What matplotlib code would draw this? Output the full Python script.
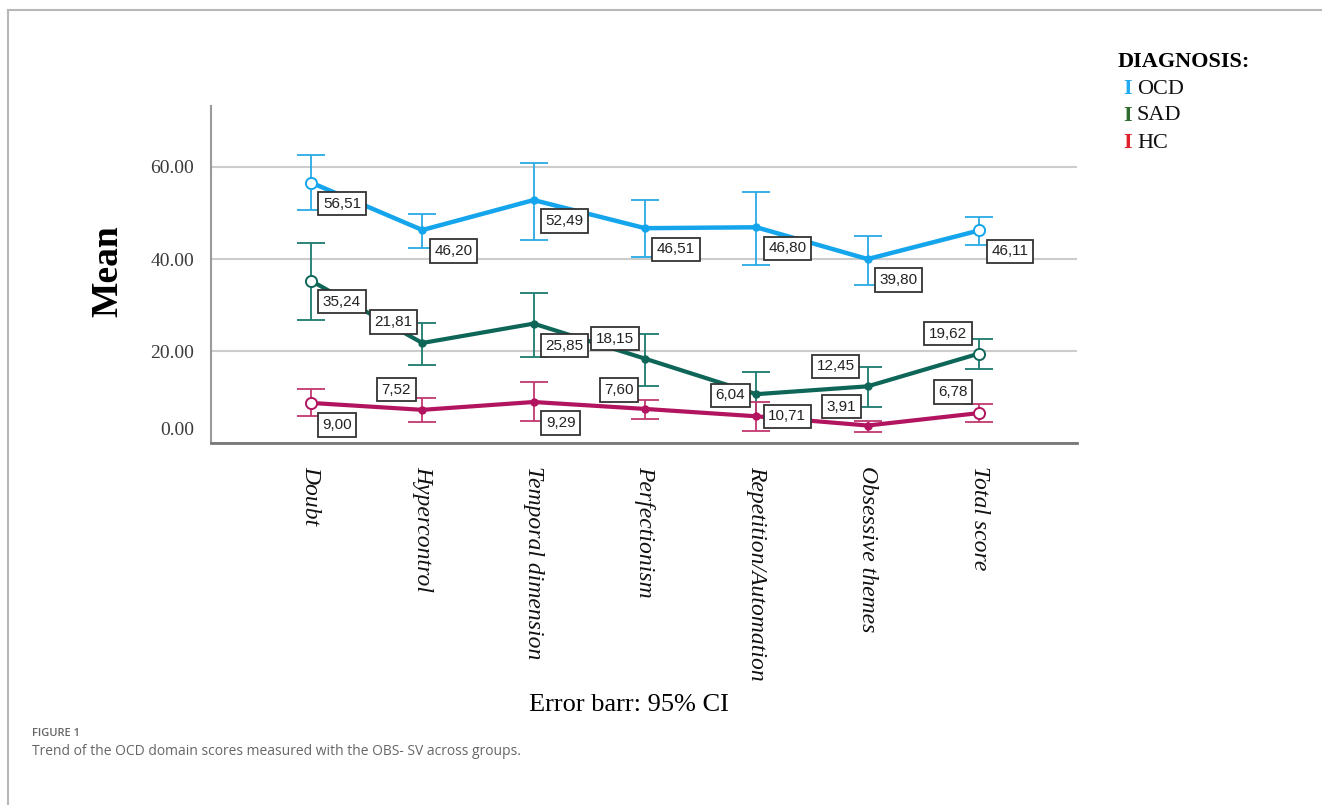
import numpy as np
import matplotlib.pyplot as plt
from matplotlib.lines import Line2D
from matplotlib.transforms import ScaledTranslation

categories = ['Doubt', 'Hypercontrol', 'Temporal dimension', 'Perfectionism',
              'Repetition/Automation', 'Obsessive themes', 'Total score']

# means and 95% CI limits
ocd_mean = [56.6, 46.3, 52.8, 46.7, 46.9, 40.0, 46.2]
ocd_lo = [50.7, 42.5, 44.1, 40.4, 38.8, 34.3, 43.0]
ocd_hi = [62.5, 49.8, 60.8, 52.8, 54.6, 45.0, 49.1]
ocd_labels = ['56,51', '46,20', '52,49', '46,51', '46,80', '39,80', '46,11']

sad_mean = [35.3, 21.8, 26.0, 18.4, 10.7, 12.4, 19.5]
sad_lo = [26.7, 17.0, 18.8, 12.4, 5.9, 7.9, 16.2]
sad_hi = [43.4, 26.2, 32.7, 23.7, 15.5, 16.6, 22.7]
sad_labels = ['35,24', '21,81', '25,85', '18,15', '6,04', '12,45', '19,62']

hc_mean = [8.8, 7.3, 9.0, 7.5, 5.9, 3.9, 6.6]
hc_lo = [5.9, 4.6, 4.8, 5.4, 2.8, 2.5, 4.6]
hc_hi = [11.9, 9.9, 13.3, 9.5, 9.0, 4.8, 8.5]
hc_labels = ['9,00', '7,52', '9,29', '7,60', '10,71', '3,91', '6,78']

# label box offsets in pixels (layout only)
ocd_off = [(31, -21)] * 7
sad_off = [(31, -21), (-29, 21), (31, -22), (-30, 20), (-26, -1), (-32, 20), (-31, 20)]
hc_off = [(26, -22), (-26, 20), (27, -21), (-26, 19), (31, 0), (-26, 19), (-26, 21)]

fig = plt.figure(figsize=(13.22, 8.05), dpi=100)
ax = fig.add_axes([211/1322, 1 - 443.5/805, 866/1322, 337.5/805])

x = np.arange(len(categories))

series = [
    (ocd_mean, ocd_lo, ocd_hi, ocd_labels, ocd_off, '#14a5ec', '#2aaae4', 3.2),
    (sad_mean, sad_lo, sad_hi, sad_labels, sad_off, '#0e6659', '#1d7b70', 3.0),
    (hc_mean, hc_lo, hc_hi, hc_labels, hc_off, '#b3145f', '#c2386f', 3.0),
]

for mean, lo, hi, labels, offs, lc, ec, lw in series:
    mean = np.array(mean)
    yerr = [mean - np.array(lo), np.array(hi) - mean]
    ax.errorbar(x, mean, yerr=yerr, fmt='none', ecolor=ec, elinewidth=1.3,
                capsize=10, capthick=1.3, zorder=2)
    ax.plot(x, mean, color=lc, lw=lw, zorder=3, solid_capstyle='round')
    ax.plot(x[1:-1], mean[1:-1], 'o', color=lc, ms=5, zorder=4)
    ax.plot(x[[0, -1]], mean[[0, -1]], 'o', color=lc, ms=8, mfc='white',
            mew=1.4, zorder=4)
    for xi, yi, t, (dx, dy) in zip(x, mean, labels, offs):
        ax.annotate(t, (xi, yi), xytext=(dx, dy), textcoords='offset pixels',
                    ha='center', va='center', fontsize=11, color='#222222',
                    family='Liberation Sans', zorder=5,
                    bbox=dict(boxstyle='square,pad=0.3', fc='white',
                              ec='#333333', lw=1.3))

ax.set_xlim(-0.898, 6.88)
ax.set_ylim(0, 73.2)
ax.set_yticks([0, 20, 40, 60])
ax.set_yticklabels(['0.00', '20.00', '40.00', '60.00'], family='Liberation Serif',
                   fontsize=14, color='#3a3a3a')
ax.yaxis.grid(True, color='#cccccc', lw=1.5)
ax.set_axisbelow(True)
ax.tick_params(axis='y', length=0, pad=12)
# the 0.00 label sits a little above the axis in the original
lab0 = ax.get_yticklabels()[0]
lab0.set_transform(lab0.get_transform() + ScaledTranslation(0, 0.15, fig.dpi_scale_trans))

ax.set_xticks(x)
ax.set_xticklabels(categories, rotation=-90, family='Liberation Serif',
                   style='italic', fontsize=17, color='#111111',
                   ha='center', va='top')
ax.tick_params(axis='x', length=0, pad=16)

for s in ['top', 'right']:
    ax.spines[s].set_visible(False)
ax.spines['left'].set_color('#9a9a9a')
ax.spines['left'].set_linewidth(1.5)
ax.spines['bottom'].set_color('#777777')
ax.spines['bottom'].set_linewidth(2)

ax.set_ylabel('Mean', family='Liberation Serif', fontweight='bold', fontsize=27,
              va='center')
ax.yaxis.set_label_coords((108 - 211) / 866, (443.5 - 271) / 337.5)
ax.set_xlabel('Error barr: 95% CI', family='Liberation Serif', fontsize=19,
              va='center')
ax.xaxis.set_label_coords((629 - 211) / 866, (443.5 - 705) / 337.5)

# legend drawn as text, like the original
fig.text(1118/1322, 1 - 62/805, 'DIAGNOSIS:', family='Liberation Serif',
         fontweight='bold', fontsize=16, va='center', ha='left')
leg_names = ['OCD', 'SAD', 'HC']
leg_colors = ['#21aaf0', '#2e6b2e', '#e0202a']
for i, (nm, c) in enumerate(zip(leg_names, leg_colors)):
    yy = 1 - (89 + 27 * i) / 805
    fig.text(1123/1322, yy, 'I', family='Liberation Serif', fontweight='bold',
             fontsize=16, color=c, va='center', ha='left')
    fig.text(1137/1322, yy, nm, family='Liberation Serif', fontsize=16,
             color='#111111', va='center', ha='left')

# caption and page frame
fig.text(32/1322, 1 - 733/805, 'FIGURE 1', family='Open Sans', fontweight='semibold',
         fontsize=8, color='#666666', va='center', ha='left')
fig.text(32/1322, 1 - 751/805,
         'Trend of the OCD domain scores measured with the OBS- SV across groups.',
         family='Open Sans', fontsize=10, color='#666666', va='center', ha='left')
fig.add_artist(Line2D([8/1322, 1], [1 - 10/805, 1 - 10/805], color='#b8b8b8', lw=1.5))
fig.add_artist(Line2D([8/1322, 8/1322], [0, 1 - 10/805], color='#b8b8b8', lw=1.5))

fig.savefig('out.png', dpi=100)
